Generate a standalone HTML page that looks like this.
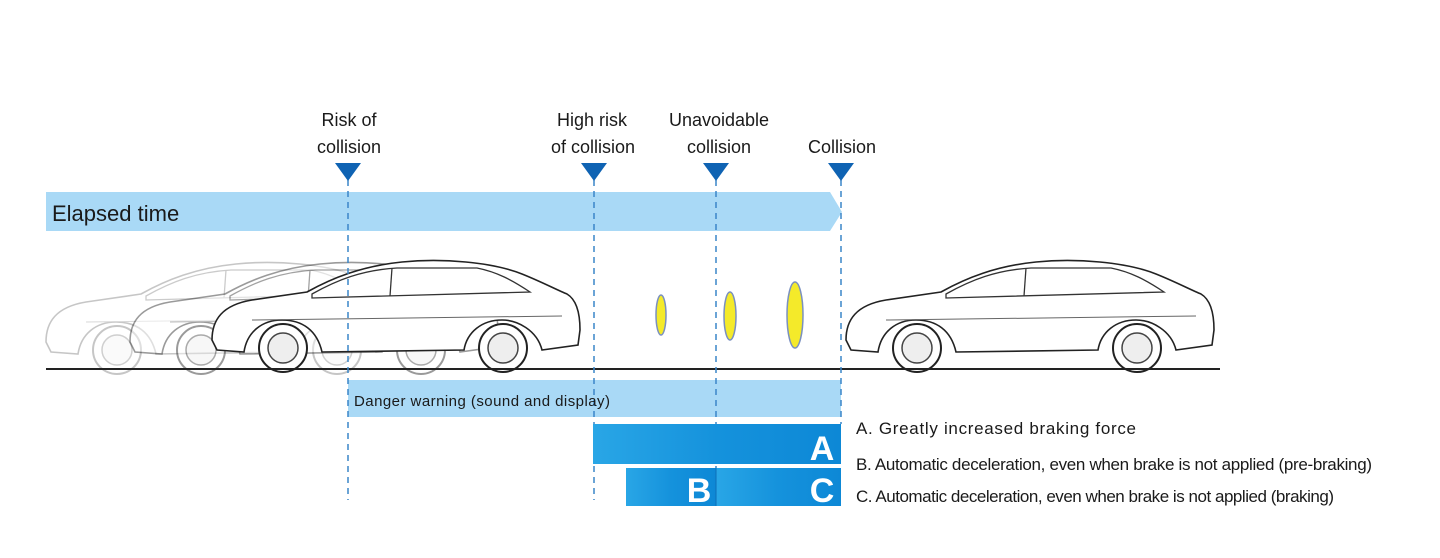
<!DOCTYPE html>
<html><head><style>
body{margin:0;background:#fff;}
svg{display:block;font-family:"Liberation Sans",sans-serif;}
</style></head><body>
<svg width="1440" height="558" viewBox="0 0 1440 558">
<defs>
<linearGradient id="g" x1="0" x2="1"><stop offset="0" stop-color="#29a6e6"/><stop offset="0.5" stop-color="#1592dc"/><stop offset="1" stop-color="#0d88d6"/></linearGradient>
<g id="car">
<path d="M0,80 C0,60 10,45 40,40 L95,32 C120,18 150,6 190,2 C230,-2 280,2 310,14 C330,22 345,30 355,34 C365,40 368,55 368,70 L366,85 L330,90 C325,70 305,60 290,60 C270,60 255,72 252,90 L110,92 C105,70 90,60 70,60 C50,60 35,72 32,92 L5,90 Z" fill="#fff" stroke="#222" stroke-width="1.6"/>
<path d="M100,34 C125,20 150,10 185,8 L265,8 C285,12 300,20 318,32 L100,38 Z" fill="#fff" stroke="#333" stroke-width="1.3"/>
<line x1="180" y1="8" x2="178" y2="36" stroke="#333" stroke-width="1.3"/>
<line x1="40" y1="60" x2="350" y2="56" stroke="#666" stroke-width="1"/>
<circle cx="71" cy="88" r="24" fill="#fff" stroke="#222" stroke-width="2"/>
<circle cx="71" cy="88" r="15" fill="#eee" stroke="#444" stroke-width="1.5"/>
<circle cx="291" cy="88" r="24" fill="#fff" stroke="#222" stroke-width="2"/>
<circle cx="291" cy="88" r="15" fill="#eee" stroke="#444" stroke-width="1.5"/>
</g>
</defs>
<polygon points="46,192 830,192 842,212 830,231 46,231" fill="#a9d9f6"/>
<text x="52" y="221" font-size="22" fill="#1a1a1a">Elapsed time</text>
<g opacity="0.25" transform="translate(46,262)"><use href="#car"/></g>
<g opacity="0.45" transform="translate(130,262)"><use href="#car"/></g>
<g transform="translate(212,260)"><use href="#car"/></g>
<g transform="translate(846,260)"><use href="#car"/></g>
<ellipse cx="661" cy="315" rx="5" ry="20" fill="#f4ea2a" stroke="#7a90c0" stroke-width="1.5"/>
<ellipse cx="730" cy="316" rx="6" ry="24" fill="#f4ea2a" stroke="#7a90c0" stroke-width="1.5"/>
<ellipse cx="795" cy="315" rx="8" ry="33" fill="#f4ea2a" stroke="#7a90c0" stroke-width="1.5"/>
<line x1="46" y1="369" x2="1220" y2="369" stroke="#222" stroke-width="2"/>
<rect x="348" y="380" width="493" height="37" fill="#a9d9f6"/>
<g stroke="#3a86c8" stroke-width="1.5" stroke-dasharray="6,5">
<line x1="348" y1="180" x2="348" y2="500"/>
<line x1="594" y1="180" x2="594" y2="500"/>
<line x1="716" y1="180" x2="716" y2="468"/>
<line x1="841" y1="180" x2="841" y2="424"/>
</g>
<text x="354" y="406" font-size="15" fill="#1a1a1a" textLength="256">Danger warning (sound and display)</text>
<rect x="593" y="424" width="248" height="40" fill="url(#g)"/>
<rect x="626" y="468" width="90" height="38" fill="url(#g)"/>
<rect x="716" y="468" width="125" height="38" fill="url(#g)"/>
<line x1="716" y1="468" x2="716" y2="506" stroke="#0d6fb8" stroke-width="1"/>
<text x="822" y="460" font-size="34" font-weight="bold" fill="#fff" text-anchor="middle">A</text>
<text x="699" y="502" font-size="34" font-weight="bold" fill="#fff" text-anchor="middle">B</text>
<text x="822" y="502" font-size="34" font-weight="bold" fill="#fff" text-anchor="middle">C</text>
<g fill="#0f63b3">
<polygon points="335,163 361,163 348,181"/>
<polygon points="581,163 607,163 594,181"/>
<polygon points="703,163 729,163 716,181"/>
<polygon points="828,163 854,163 841,181"/>
</g>
<g font-size="18" fill="#1a1a1a" text-anchor="middle">
<text x="349" y="126">Risk of</text><text x="349" y="153">collision</text>
<text x="592" y="126">High risk</text><text x="593" y="153">of collision</text>
<text x="719" y="126">Unavoidable</text><text x="719" y="153">collision</text>
<text x="842" y="153">Collision</text>
</g>
<g font-size="17" fill="#1a1a1a">
<text x="856" y="434" textLength="280">A. Greatly increased braking force</text>
<text x="856" y="470" textLength="516">B. Automatic deceleration, even when brake is not applied (pre-braking)</text>
<text x="856" y="502" textLength="478">C. Automatic deceleration, even when brake is not applied (braking)</text>
</g>
</svg>
</body></html>
